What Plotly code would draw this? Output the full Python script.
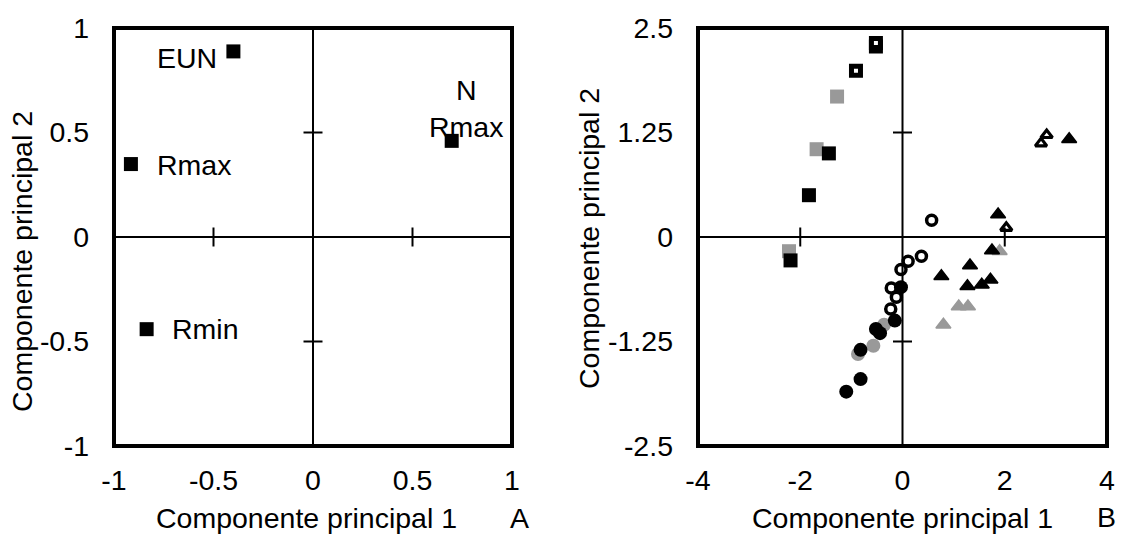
import plotly.graph_objects as go

# ---------------- Panel A: variable loadings ----------------
var_names = ["EUN", "Rmax", "Rmin", "N<br>Rmax"]
load_pc1 = [-0.40, -0.915, -0.836, 0.697]
load_pc2 = [0.888, 0.349, -0.441, 0.46]

a_ticks = [-1, -0.5, 0, 0.5, 1]
a_ticktext = ["-1", "-0.5", "0", "0.5", "1"]

# ---------------- Panel B: scores by group ----------------
sq_black_x = [-1.83, -1.44, -2.19]
sq_black_y = [0.50, 1.00, -0.28]
sq_gray_x = [-1.68, -1.28, -2.22]
sq_gray_y = [1.05, 1.68, -0.17]
sq_open_x = [-0.91, -0.52, -0.52]
sq_open_y = [1.99, 2.28, 2.32]

circ_black_x = [-0.03, -0.15, -0.52, -0.44, -0.82, -0.82, -1.10]
circ_black_y = [-0.60, -1.00, -1.10, -1.15, -1.35, -1.70, -1.85]
circ_gray_x = [-0.36, -0.57, -0.87]
circ_gray_y = [-1.05, -1.30, -1.40]
circ_open_x = [0.57, 0.37, 0.11, -0.03, -0.22, -0.12, -0.23]
circ_open_y = [0.20, -0.23, -0.29, -0.39, -0.61, -0.72, -0.86]

tri_black_x = [3.26, 1.87, 1.75, 0.76, 1.32, 1.27, 1.55, 1.72]
tri_black_y = [1.17, 0.27, -0.16, -0.47, -0.34, -0.59, -0.57, -0.51]
tri_gray_x = [1.90, 1.10, 1.28, 0.80]
tri_gray_y = [-0.17, -0.83, -0.83, -1.05]
tri_open_x = [2.82, 2.71, 2.03]
tri_open_y = [1.22, 1.12, 0.11]

b_xticks = [-4, -2, 0, 2, 4]
b_xticktext = ["-4", "-2", "0", "2", "4"]
b_yticks = [-2.5, -1.25, 0, 1.25, 2.5]
b_yticktext = ["-2.5", "-1.25", "0", "1.25", "2.5"]

FONT = "Liberation Sans, Arial, sans-serif"
FS = 28.5
GRAY = "#999999"
W, H = 1122, 535

fig = go.Figure()

# Panel A points
fig.add_trace(go.Scatter(
    x=load_pc1, y=load_pc2, mode="markers", xaxis="x", yaxis="y",
    marker=dict(symbol="square", size=14, color="black"),
    hoverinfo="skip", showlegend=False))


def add_group(xs, ys, symbol, fill, size, line_w=0):
    fig.add_trace(go.Scatter(
        x=xs, y=ys, mode="markers", xaxis="x2", yaxis="y2",
        marker=dict(symbol=symbol, size=size, color=fill,
                    line=dict(color="black" if fill == "white" else fill,
                              width=line_w)),
        hoverinfo="skip", showlegend=False))


# grey first, black over it, hollow markers on top
add_group(sq_gray_x, sq_gray_y, "square", GRAY, 14)
add_group(sq_black_x, sq_black_y, "square", "black", 14)
add_group(sq_open_x, sq_open_y, "square", "white", 9, 5)
add_group(circ_gray_x, circ_gray_y, "circle", GRAY, 14)
add_group(circ_open_x, circ_open_y, "circle", "white", 10, 3.5)
add_group(circ_black_x, circ_black_y, "circle", "black", 14)
add_group(tri_gray_x, tri_gray_y, "triangle-up", GRAY, 13, 1.5)
add_group(tri_black_x, tri_black_y, "triangle-up", "black", 13, 1.5)
add_group(tri_open_x, tri_open_y, "triangle-up", "white", 10, 3.2)

shapes = []
annotations = []


def frame_and_axes(xa, ya, xt, yt):
    xd, yd = xa + " domain", ya + " domain"
    # centre axes
    shapes.append(dict(type="line", xref=xd, yref=ya, x0=0, x1=1, y0=0, y1=0,
                       line=dict(color="black", width=2), layer="above"))
    shapes.append(dict(type="line", xref=xa, yref=yd, x0=0, x1=0, y0=0, y1=1,
                       line=dict(color="black", width=2), layer="above"))
    # small crossing ticks on the centre axes
    for v in xt:
        if v in (0, xt[0], xt[-1]):
            continue
        shapes.append(dict(type="line", xref=xa, yref=ya,
                           xsizemode="pixel", xanchor=v, x0=0, x1=0,
                           ysizemode="pixel", yanchor=0, y0=-9.5, y1=9.5,
                           line=dict(color="black", width=2), layer="above"))
    for v in yt:
        if v in (0, yt[0], yt[-1]):
            continue
        shapes.append(dict(type="line", xref=xa, yref=ya,
                           ysizemode="pixel", yanchor=v, y0=0, y1=0,
                           xsizemode="pixel", xanchor=0, x0=-9.5, x1=9.5,
                           line=dict(color="black", width=2), layer="above"))
    # heavy outer frame
    shapes.append(dict(type="rect", xref=xd, yref=yd, x0=0, x1=1, y0=0, y1=1,
                       line=dict(color="black", width=4), layer="above"))


frame_and_axes("x", "y", a_ticks, a_ticks)
frame_and_axes("x2", "y2", b_xticks, b_yticks)

# Panel A point labels (offsets in pixels from each point)
label_style = {
    "EUN": dict(xanchor="right", xshift=-14, yshift=-7),
    "Rmax": dict(xanchor="left", xshift=24, yshift=-1),
    "Rmin": dict(xanchor="left", xshift=23, yshift=0),
    "N<br>Rmax": dict(xanchor="center", xshift=14, yshift=32),
}
for name, px, py in zip(var_names, load_pc1, load_pc2):
    annotations.append(dict(xref="x", yref="y", x=px, y=py, text=name,
                            showarrow=False, yanchor="middle",
                            font=dict(family=FONT, size=FS, color="black"),
                            **label_style[name]))


def paper_text(text, px, py, angle=0, anchor="center"):
    annotations.append(dict(xref="paper", yref="paper", x=px / W, y=1 - py / H,
                            text=text, showarrow=False, textangle=angle,
                            xanchor=anchor, yanchor="middle",
                            font=dict(family=FONT, size=FS, color="black")))


paper_text("Componente principal 1", 306, 518)
paper_text("Componente principal 1", 902, 518)
paper_text("Componente principal 2", 22, 262, -90)
paper_text("Componente principal 2", 589, 239, -90)
paper_text("A", 519, 518)
paper_text("B", 1118, 517, anchor="right")

ydom = [(H - 446) / H, (H - 28) / H]
tickfont = dict(family=FONT, size=FS, color="black")
common = dict(showgrid=False, zeroline=False, showline=False, ticks="",
              tickfont=tickfont, fixedrange=True, automargin=False)

fig.update_layout(
    width=W, height=H, margin=dict(l=0, r=0, t=0, b=0),
    paper_bgcolor="white", plot_bgcolor="white",
    xaxis=dict(domain=[114 / W, 512 / W], range=[-1, 1], anchor="y",
               tickvals=a_ticks, ticktext=a_ticktext, ticklabelstandoff=14,
               **common),
    yaxis=dict(domain=ydom, range=[-1, 1], anchor="x",
               tickvals=a_ticks, ticktext=a_ticktext, ticklabelstandoff=24,
               **common),
    xaxis2=dict(domain=[698 / W, 1107 / W], range=[-4, 4], anchor="y2",
                tickvals=b_xticks, ticktext=b_xticktext, ticklabelstandoff=14,
                **common),
    yaxis2=dict(domain=ydom, range=[-2.5, 2.5], anchor="x2",
                tickvals=b_yticks, ticktext=b_yticktext, ticklabelstandoff=24,
                **common),
    shapes=shapes, annotations=annotations,
)

fig.write_html("out.html")
